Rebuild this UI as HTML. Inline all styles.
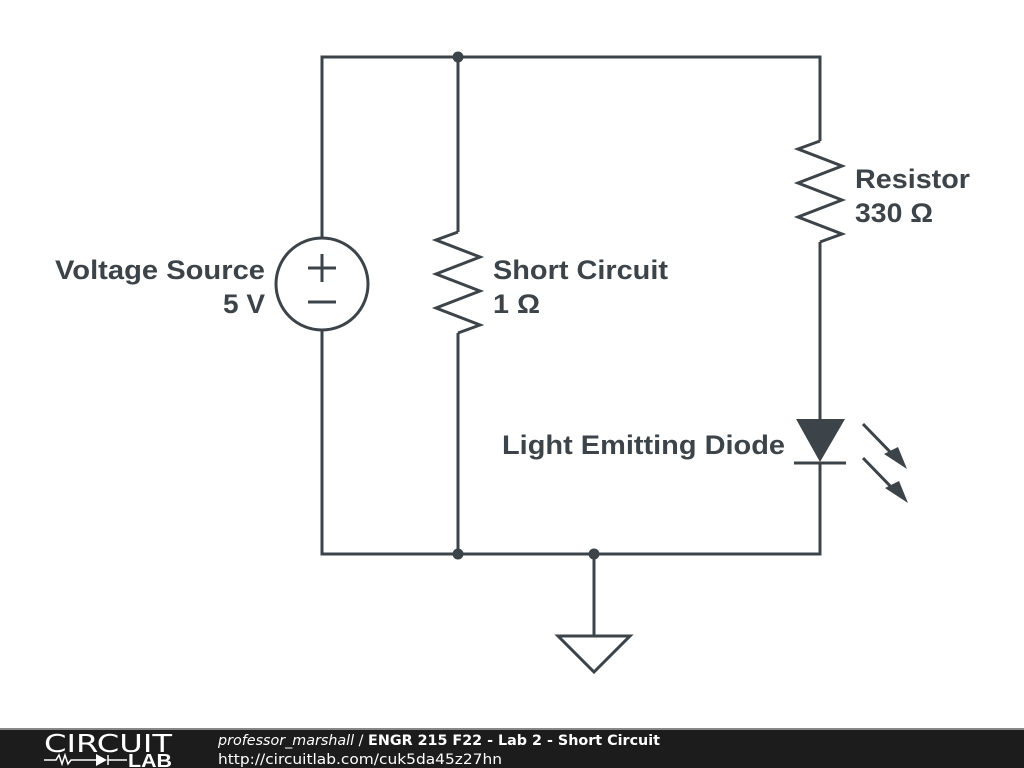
<!DOCTYPE html>
<html><head><style>
html,body{margin:0;padding:0;background:#fff;}
svg{display:block;}
text{font-family:"Liberation Sans",Arial,sans-serif;}
</style></head><body>
<svg width="1024" height="768" viewBox="0 0 1024 768" xmlns="http://www.w3.org/2000/svg">
<g stroke="#3d4449" stroke-width="3" fill="none" stroke-linejoin="miter">
<polyline points="322,237 322,57 820,57 820,141"/>
<polyline points="322,331 322,554 820,554 820,463"/>
<line x1="458" y1="57" x2="458" y2="232"/>
<polyline points="458,232 436,240 480,257 436,274 480,291 436,308 480,325 458,333"/>
<line x1="458" y1="333" x2="458" y2="554"/>
<polyline points="820,141 798,149 842,166 798,183 842,200 798,217 842,234 820,242"/>
<line x1="820" y1="242" x2="820" y2="420"/>
<circle cx="322" cy="284" r="46"/>
<line x1="308" y1="268" x2="336" y2="268"/>
<line x1="322" y1="254" x2="322" y2="282"/>
<line x1="308" y1="302" x2="336" y2="302"/>
<line x1="794" y1="463" x2="846" y2="463"/>
<line x1="594" y1="554" x2="594" y2="636"/>
<polygon points="558,636 630,636 594,672"/>
<line x1="863" y1="424" x2="896" y2="458"/>
<line x1="863" y1="458" x2="896" y2="492"/>
</g>
<g fill="#3d4449">
<polygon points="796,419 845,419 820,462"/>
<polygon points="907,469 884,454 898,447"/>
<polygon points="908,503 885,488 899,481"/>
<circle cx="458" cy="57" r="5.5"/>
<circle cx="458" cy="554" r="5.5"/>
<circle cx="594" cy="554" r="5.5"/>
</g>
<g fill="#3d4449" font-weight="bold" font-size="27">
<text x="55" y="279" textLength="210" lengthAdjust="spacingAndGlyphs">Voltage Source</text>
<text x="223" y="313" textLength="42" lengthAdjust="spacingAndGlyphs">5 V</text>
<text x="493" y="279" textLength="175" lengthAdjust="spacingAndGlyphs">Short Circuit</text>
<text x="493" y="313" textLength="47" lengthAdjust="spacingAndGlyphs">1 Ω</text>
<text x="855" y="188" textLength="115" lengthAdjust="spacingAndGlyphs">Resistor</text>
<text x="855" y="222" textLength="78" lengthAdjust="spacingAndGlyphs">330 Ω</text>
<text x="502" y="454" textLength="283" lengthAdjust="spacingAndGlyphs">Light Emitting Diode</text>
</g>
<rect x="0" y="728" width="1024" height="40" fill="#1c1c1c"/>
<rect x="0" y="728" width="1024" height="2" fill="#888"/>
<text x="44" y="752" fill="#fff" font-size="25" textLength="128" lengthAdjust="spacingAndGlyphs" style="font-family:'DejaVu Sans',sans-serif;font-weight:normal">CIRCUIT</text>
<g stroke="#fff" stroke-width="1.5" fill="none">
<polyline points="44,760 56,760 59,755 62,764 65,755 68,764 71,760 100,760"/>
<line x1="108" y1="755" x2="108" y2="765"/>
<line x1="108" y1="760" x2="127" y2="760"/>
</g>
<polygon points="96,754 96,766 107,760" fill="#fff"/>
<text x="128" y="767" fill="#fff" font-size="18" font-weight="bold" textLength="44" lengthAdjust="spacingAndGlyphs">LAB</text>
<text x="218" y="745" fill="#fff" font-size="14" textLength="442" lengthAdjust="spacingAndGlyphs" style="font-family:'DejaVu Sans',sans-serif"><tspan font-style="italic">professor_marshall</tspan> / <tspan font-weight="bold">ENGR 215 F22 - Lab 2 - Short Circuit</tspan></text>
<text x="218" y="764" fill="#fff" font-size="14" textLength="284" lengthAdjust="spacingAndGlyphs" style="font-family:'DejaVu Sans',sans-serif">http://circuitlab.com/cuk5da45z27hn</text>
</svg>
</body></html>
